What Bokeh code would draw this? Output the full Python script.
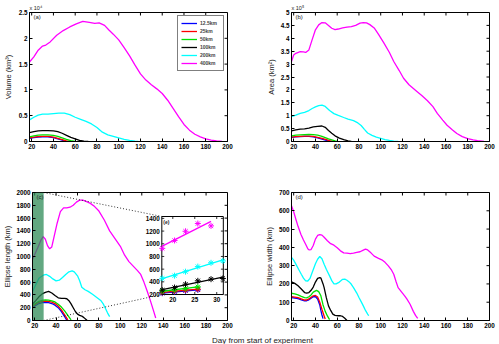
import numpy as np
from bokeh.plotting import figure
from bokeh.models import (Range1d, FixedTicker, NumeralTickFormatter,
                          Label, Legend, LegendItem)
from bokeh.layouts import column, row
from bokeh.embed import file_html
from bokeh.resources import INLINE
from bokeh.core.properties import value

FONT = "Liberation Sans"

# ---------------------------------------------------------------- series
size_labels = ["12.5km", "25km", "50km", "100km", "200km", "400km"]
size_colors = ["#0000ff", "#ff0000", "#00e000", "#000000", "#00ffff", "#ff00ff"]

day_ticks = [20, 40, 60, 80, 100, 120, 140, 160, 180, 200]
day_start, day_end = 18, 200

# (a) iceberg volume, x 10^4 km^3
vol_days = [
    [18, 22, 26, 30, 35, 40, 44, 48, 51],
    [18, 22, 26, 30, 35, 40, 44, 48, 52, 55],
    [18, 22, 26, 30, 35, 40, 44, 48, 52, 56, 60],
    [18, 22, 26, 30, 35, 40, 44, 48, 52, 56, 60, 64, 68, 72],
    [18, 22, 26, 30, 35, 40, 45, 50, 55, 60, 65, 70, 75, 80, 85, 90, 95, 100, 105, 110, 115, 118],
    [18, 22, 26, 30, 33, 37, 43, 49, 55, 61, 67, 73, 78, 82, 87, 91, 95, 100, 105, 110, 115, 120,
     125, 130, 135, 140, 145, 150, 155, 160, 165, 170, 175, 180, 185, 190, 195],
]
vol_vals = [
    [0.06, 0.075, 0.085, 0.09, 0.09, 0.075, 0.05, 0.025, 0.0],
    [0.07, 0.085, 0.095, 0.10, 0.10, 0.085, 0.06, 0.035, 0.01, 0.0],
    [0.09, 0.11, 0.125, 0.13, 0.13, 0.12, 0.10, 0.07, 0.04, 0.015, 0.0],
    [0.17, 0.19, 0.205, 0.21, 0.21, 0.205, 0.19, 0.16, 0.12, 0.08, 0.05, 0.02, 0.005, 0.0],
    [0.42, 0.47, 0.51, 0.53, 0.53, 0.54, 0.55, 0.55, 0.52, 0.47, 0.43, 0.39, 0.34, 0.27, 0.18,
     0.13, 0.10, 0.07, 0.04, 0.02, 0.005, 0.0],
    [1.54, 1.64, 1.77, 1.85, 1.87, 1.93, 2.06, 2.15, 2.22, 2.28, 2.33, 2.31, 2.29, 2.30, 2.25,
     2.16, 2.08, 1.97, 1.82, 1.66, 1.48, 1.31, 1.19, 1.10, 1.02, 0.93, 0.80, 0.64, 0.48, 0.33,
     0.22, 0.14, 0.09, 0.05, 0.025, 0.01, 0.0],
]
vol_ticks = [0, 0.5, 1, 1.5, 2, 2.5]

# (b) area, x 10^5 km^2
area_days = [
    [18, 22, 26, 30, 34, 38, 42, 46, 50, 53],
    [18, 22, 26, 30, 34, 38, 42, 46, 50, 53, 56],
    [18, 22, 26, 30, 34, 38, 42, 46, 49, 52, 55, 58, 60],
    [18, 22, 26, 30, 34, 38, 42, 46, 49, 52, 55, 58, 62, 66, 70, 73],
    [18, 22, 26, 30, 34, 37, 40, 43, 46, 49, 53, 57, 61, 66, 70, 75, 79, 82, 85, 88, 92, 96,
     100, 104, 108, 112, 116],
    [18, 20, 22, 26, 29, 31, 34, 37, 40, 43, 46, 49, 52, 55, 58, 61, 65, 69, 73, 77, 81, 84,
     87, 90, 94, 98, 103, 108, 112, 117, 121, 126, 133, 138, 143, 148, 152, 157, 161, 166,
     170, 175, 180, 185, 189, 195],
]
area_vals = [
    [0.16, 0.18, 0.19, 0.20, 0.20, 0.18, 0.14, 0.09, 0.04, 0.0],
    [0.17, 0.19, 0.20, 0.21, 0.21, 0.20, 0.16, 0.12, 0.07, 0.03, 0.0],
    [0.22, 0.25, 0.26, 0.27, 0.28, 0.27, 0.25, 0.20, 0.15, 0.10, 0.06, 0.02, 0.0],
    [0.41, 0.45, 0.48, 0.49, 0.52, 0.57, 0.59, 0.60, 0.55, 0.43, 0.32, 0.22, 0.13, 0.07,
     0.02, 0.0],
    [0.96, 1.02, 1.09, 1.13, 1.20, 1.28, 1.34, 1.39, 1.41, 1.36, 1.20, 1.08, 1.01, 0.93,
     0.87, 0.81, 0.72, 0.62, 0.47, 0.33, 0.24, 0.17, 0.12, 0.07, 0.04, 0.015, 0.0],
    [3.10, 3.35, 3.42, 3.48, 3.47, 3.45, 3.55, 3.95, 4.33, 4.52, 4.61, 4.60, 4.50, 4.39,
     4.34, 4.36, 4.40, 4.43, 4.45, 4.50, 4.59, 4.61, 4.60, 4.53, 4.40, 4.15, 3.81, 3.45,
     3.10, 2.75, 2.45, 2.20, 1.95, 1.77, 1.58, 1.35, 1.09, 0.83, 0.63, 0.45, 0.31, 0.19,
     0.11, 0.06, 0.03, 0.0],
]
area_ticks = [0, 0.5, 1, 1.5, 2, 2.5, 3, 3.5, 4, 4.5, 5]

# (c) ellipse length, km
len_days = [
    [18, 21, 24, 27, 30, 33, 36, 39, 42, 45, 48, 50],
    [18, 21, 24, 27, 30, 33, 36, 39, 42, 45, 48, 51],
    [18, 21, 24, 27, 30, 33, 36, 39, 42, 45, 48, 51, 54],
    [18, 21, 24, 27, 30, 33, 36, 39, 42, 45, 48, 50, 52, 54, 56, 58, 60, 62, 64, 66, 68, 69],
    [18, 21, 24, 28, 31, 34, 37, 40, 43, 46, 49, 52, 55, 57, 60, 62, 64, 67, 70, 74, 78, 82,
     84, 86, 88, 90],
    [18, 20, 23, 26, 28, 30, 32, 34, 36, 38, 41, 44, 47, 50, 53, 56, 59, 62, 65, 68, 72, 76,
     80, 85, 90, 95, 100, 104, 108, 112, 116, 119, 122, 125, 128, 131, 133],
]
len_vals = [
    [200, 235, 265, 280, 285, 280, 265, 240, 200, 140, 60, 5],
    [220, 255, 285, 300, 305, 300, 288, 265, 225, 165, 90, 10],
    [235, 270, 300, 315, 322, 318, 308, 290, 255, 210, 150, 80, 10],
    [255, 310, 370, 415, 440, 455, 430, 390, 355, 345, 345, 340, 310, 260, 200, 140, 100,
     80, 70, 45, 15, 0],
    [448, 560, 660, 708, 719, 690, 650, 620, 630, 672, 720, 760, 776, 760, 698, 620, 520,
     480, 455, 410, 360, 307, 260, 190, 120, 60],
    [958, 1030, 1140, 1260, 1310, 1270, 1170, 1120, 1150, 1300, 1520, 1700, 1760, 1760,
     1770, 1800, 1850, 1880, 1880, 1860, 1830, 1780, 1710, 1570, 1400, 1280, 1160, 1020,
     920, 850, 780, 720, 600, 460, 310, 150, 40],
]
len_ticks = [0, 200, 400, 600, 800, 1000, 1200, 1400, 1600, 1800, 2000]

# (d) ellipse width, km
wid_days = [
    [18, 21, 24, 27, 30, 32, 34, 36, 38, 40, 42, 44, 45, 46, 47],
    [18, 21, 24, 27, 30, 32, 34, 36, 38, 40, 42, 44, 46, 48, 49],
    [18, 21, 24, 27, 30, 32, 34, 36, 38, 41, 43, 45, 47, 49, 51, 53],
    [18, 21, 24, 27, 30, 32, 34, 36, 38, 40, 42, 44, 45, 47, 48, 50, 52, 54, 56, 58, 61,
     63, 65, 67, 69],
    [18, 20, 22, 25, 27, 29, 31, 33, 35, 37, 40, 42, 44, 46, 48, 50, 53, 55, 57, 59, 62,
     65, 67, 69, 71, 73, 75, 78, 80, 82, 84, 86, 88, 89],
    [18, 20, 22, 24, 26.6, 29, 31, 33, 34, 36, 38, 40, 42, 44, 46, 48, 51, 54, 57, 60, 63,
     66, 69, 72, 75, 78, 81, 84, 86, 88, 91, 94, 98, 101, 104, 107, 110, 112, 114, 116,
     118, 120, 122, 124, 127, 130, 132, 134],
]
wid_vals = [
    [125, 123, 120, 113, 108, 108, 113, 122, 130, 130, 118, 85, 55, 30, 10],
    [130, 128, 125, 118, 112, 112, 118, 127, 135, 137, 128, 100, 60, 25, 8],
    [149, 146, 140, 132, 125, 124, 130, 140, 155, 165, 158, 135, 85, 50, 25, 5],
    [211, 203, 190, 172, 153, 150, 153, 165, 183, 210, 230, 235, 232, 200, 180, 125, 80,
     55, 35, 28, 26, 26, 22, 12, 0],
    [345, 330, 308, 275, 253, 232, 217, 216, 230, 262, 310, 335, 350, 338, 308, 280, 244,
     218, 200, 200, 210, 225, 226, 220, 211, 198, 180, 150, 126, 103, 80, 55, 35, 26],
    [627, 595, 554, 515, 472, 440, 417, 392, 386, 388, 410, 445, 465, 470, 467, 455, 436,
     420, 412, 398, 381, 370, 368, 366, 368, 372, 376, 385, 390, 386, 370, 352, 340, 332,
     318, 299, 275, 253, 215, 180, 165, 150, 135, 118, 89, 50, 28, 11],
]
wid_ticks = [0, 100, 200, 300, 400, 500, 600, 700]

# (e) early ellipse length samples (days 17.5-31.5) with linear fits
early_days = [
    [17.6, 20.4, 22.9, 25.7],
    [17.6, 20.4, 22.9, 25.7],
    [17.6, 20.4, 22.9, 25.7],
    [17.6, 20.4, 22.9, 25.7, 28.7, 31.4],
    [17.6, 20.4, 22.9, 25.7, 28.7, 31.4],
    [17.6, 20.4, 22.9, 25.7, 28.7],
]
early_len = [
    [221, 242, 258, 274],
    [232, 255, 270, 284],
    [253, 274, 295, 321],
    [268, 310, 363, 416, 442, 453],
    [455, 497, 560, 640, 700, 730],
    [928, 1052, 1197, 1319, 1282],
]
inset_x_ticks = [20, 25, 30]
inset_y_ticks = [200, 400, 600, 800, 1000, 1200, 1400]
inset_xlim = (17.5, 31.5)
inset_ylim = (200, 1430)

# window of panel (c) that the inset enlarges, and where the inset sits in (c)
zoom_window = (18, 28.4)
inset_box_x = (138.7, 196.1)
inset_box_y = (406, 1625)
inset_px = (63.4, 78)        # inset frame size in pixels

TICK_FONT = "6.3px"
LABEL_FONT = "7.5px"
LINE_W = 1.3
TICK_LEN = 3


def make_panel(width, height, ymax, yticks, ylabel, borders, label_standoff,
               yfmt=None, exp_text=None):
    left, right, top, bottom = borders
    p = figure(width=width, height=height,
               x_range=Range1d(day_start, day_end), y_range=Range1d(0, ymax),
               output_backend="svg", toolbar_location=None, tools="",
               min_border_left=left, min_border_right=right,
               min_border_top=top, min_border_bottom=bottom,
               background_fill_color="white", border_fill_color="white")
    p.outline_line_color = "black"
    p.outline_line_width = 1
    p.grid.visible = False
    p.xaxis.ticker = FixedTicker(ticks=day_ticks)
    p.yaxis.ticker = FixedTicker(ticks=yticks)
    if yfmt:
        p.yaxis.formatter = NumeralTickFormatter(format=yfmt)
    p.yaxis.axis_label = ylabel
    for ax in p.axis:
        ax.major_tick_in = TICK_LEN
        ax.major_tick_out = 0
        ax.minor_tick_in = 0
        ax.minor_tick_out = 0
        ax.axis_line_color = "black"
        ax.major_tick_line_color = "black"
        ax.major_label_text_font = FONT
        ax.major_label_text_font_style = "bold"
        ax.major_label_text_font_size = TICK_FONT
        ax.major_label_text_color = "black"
        ax.major_label_standoff = 2
        ax.axis_label_text_font = FONT
        ax.axis_label_text_font_style = "normal"
        ax.axis_label_text_font_size = LABEL_FONT
        ax.axis_label_text_color = "#222222"
        ax.axis_label_standoff = label_standoff

    # inward tick marks on the top and right edges of the box
    fw = width - left - right
    fh = height - top - bottom
    dx = (day_end - day_start) * TICK_LEN / fw
    dy = ymax * TICK_LEN / fh
    p.segment(x0=day_ticks, x1=day_ticks, y0=[ymax] * len(day_ticks),
              y1=[ymax - dy] * len(day_ticks), line_color="black", line_width=1)
    p.segment(x0=[day_end] * len(yticks), x1=[day_end - dx] * len(yticks),
              y0=yticks, y1=yticks, line_color="black", line_width=1)

    if exp_text:
        p.title.text = exp_text
        p.title.align = "left"
        p.title.offset = 0
        p.title.standoff = 3
        p.title.text_font = FONT
        p.title.text_font_style = "normal"
        p.title.text_font_size = "5.5px"
        p.title.text_color = "#222222"
    return p


def panel_tag(p, text, ymax):
    p.add_layout(Label(x=day_start, y=ymax, text=text, x_offset=4, y_offset=-1.5,
                       text_baseline="top", text_font=FONT, text_font_size="6px",
                       text_color="#222222"))


def draw_series(p, days, vals):
    rs = []
    for d, v, c in zip(days, vals, size_colors):
        rs.append(p.line(d, v, line_color=c, line_width=LINE_W))
    return rs


# ---------------------------------------------------------------- (a)
pa = make_panel(250, 172, vol_ticks[-1], vol_ticks, "Volume (km\u00b3)",
                (26, 23, 12, 31), 3, yfmt="0.[0]", exp_text="x 10\u2074")
ra = draw_series(pa, vol_days, vol_vals)
panel_tag(pa, "(a)", vol_ticks[-1])
legend = Legend(items=[LegendItem(label=s, renderers=[r]) for s, r in zip(size_labels, ra)],
                location="top_right", margin=3, padding=3, spacing=0,
                glyph_width=16, glyph_height=8, label_height=8, label_standoff=3,
                label_text_font=FONT, label_text_font_size="5px",
                label_text_font_style="bold", border_line_color="black",
                border_line_width=0.8, background_fill_color="white",
                background_fill_alpha=1.0)
pa.add_layout(legend)

# ---------------------------------------------------------------- (b)
pb = make_panel(249, 172, area_ticks[-1], area_ticks, "Area (km\u00b2)",
                (41, 10, 12, 31), 2, yfmt="0.[0]", exp_text="x 10\u2075")
draw_series(pb, area_days, area_vals)
panel_tag(pb, "(b)", area_ticks[-1])

# ---------------------------------------------------------------- (c)
pc = make_panel(250, 158, len_ticks[-1], len_ticks, "Ellipse length (km)",
                (26, 23, 20, 10), 1)
draw_series(pc, len_days, len_vals)
pc.quad(left=zoom_window[0], right=zoom_window[1], bottom=0, top=len_ticks[-1],
        fill_color="#2e8b57", fill_alpha=0.75, line_color=None)
pc.segment(x0=[zoom_window[1], zoom_window[1]], y0=[len_ticks[-1], 0],
           x1=[inset_box_x[0], inset_box_x[0]], y1=[inset_box_y[1], inset_box_y[0]],
           line_color="black", line_width=0.8, line_dash="1 2")
panel_tag(pc, "(c)", len_ticks[-1])

# inset (e): early days enlarged, drawn in its own coordinate mapping inside (c)
inset = pc.subplot(x_source=Range1d(*inset_xlim), y_source=Range1d(*inset_ylim),
                   x_target=Range1d(*inset_box_x), y_target=Range1d(*inset_box_y))
inset.quad(left=inset_xlim[0], right=inset_xlim[1], bottom=inset_ylim[0], top=inset_ylim[1],
           fill_color="white", line_color="black", line_width=1)
for d, v, c in zip(early_days, early_len, size_colors):
    k, b0 = np.polyfit(d, v, 1)
    fx = np.array([d[0], d[-1]])
    inset.line(fx, k * fx + b0, line_color=c, line_width=LINE_W)
    inset.scatter(d, v, marker="asterisk", size=6, line_color=c, line_width=1)
# inset ticks (inward, all four sides)
tx = (inset_xlim[1] - inset_xlim[0]) * 2.5 / inset_px[0]
ty = (inset_ylim[1] - inset_ylim[0]) * 2.5 / inset_px[1]
n_y = len(inset_y_ticks)
n_x = len(inset_x_ticks)
inset.segment(x0=[inset_xlim[0]] * n_y, x1=[inset_xlim[0] + tx] * n_y,
              y0=inset_y_ticks, y1=inset_y_ticks, line_color="black", line_width=0.8)
inset.segment(x0=[inset_xlim[1]] * n_y, x1=[inset_xlim[1] - tx] * n_y,
              y0=inset_y_ticks, y1=inset_y_ticks, line_color="black", line_width=0.8)
inset.segment(x0=inset_x_ticks, x1=inset_x_ticks, y0=[inset_ylim[0]] * n_x,
              y1=[inset_ylim[0] + ty] * n_x, line_color="black", line_width=0.8)
inset.segment(x0=inset_x_ticks, x1=inset_x_ticks, y0=[inset_ylim[1]] * n_x,
              y1=[inset_ylim[1] - ty] * n_x, line_color="black", line_width=0.8)
inset.text(x=[inset_xlim[0]] * n_y, y=inset_y_ticks, text=[str(t) for t in inset_y_ticks],
           x_offset=-2, text_align="right", text_baseline="middle",
           text_font=value(FONT), text_font_style="bold", text_font_size=TICK_FONT,
           text_color="black")
inset.text(x=inset_x_ticks, y=[inset_ylim[0]] * n_x, text=[str(t) for t in inset_x_ticks],
           y_offset=2.5, text_align="center", text_baseline="top",
           text_font=value(FONT), text_font_style="bold", text_font_size=TICK_FONT,
           text_color="black")
inset.text(x=[inset_xlim[0]], y=[inset_ylim[1]], text=["(e)"], x_offset=1.5, y_offset=2,
           text_align="left", text_baseline="top", text_font=value(FONT),
           text_font_style="bold", text_font_size="5px", text_color="#222222")

# ---------------------------------------------------------------- (d)
pd_ = make_panel(249, 158, wid_ticks[-1], wid_ticks, "Ellipse width (km)",
                 (41, 10, 20, 10), 2)
draw_series(pd_, wid_days, wid_vals)
panel_tag(pd_, "(d)", wid_ticks[-1])

# ---------------------------------------------------------------- shared x label
xlabel_w, xlabel_h = 499, 14
xlabel_center, xlabel_baseline = 262, 4.5
px = figure(width=xlabel_w, height=xlabel_h, x_range=Range1d(0, xlabel_w),
            y_range=Range1d(0, xlabel_h), output_backend="svg", toolbar_location=None,
            tools="", min_border=0, x_axis_location=None, y_axis_location=None,
            background_fill_color="white", border_fill_color="white")
px.outline_line_color = None
px.grid.visible = False
px.text(x=[xlabel_center], y=[xlabel_baseline], text=["Day from start of experiment"],
        text_align="center", text_baseline="alphabetic", text_font=value(FONT),
        text_font_size="8px", text_color="#222222")

layout = column(row(pa, pb), row(pc, pd_), px)
open("out.html", "w").write(file_html(layout, INLINE))
